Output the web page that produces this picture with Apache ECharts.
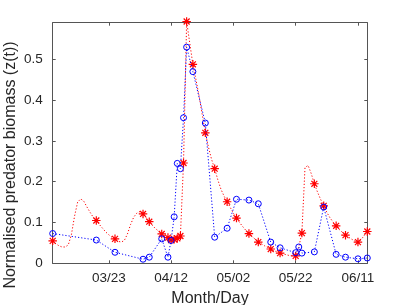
<!DOCTYPE html>
<html><head><meta charset="utf-8">
<script src="https://cdn.jsdelivr.net/npm/echarts@6/dist/echarts.min.js"></script>
<style>html,body{margin:0;padding:0;background:#fff}#c{width:407px;height:305px}</style>
</head><body><div id="c"></div>
<script>
// x values are day-of-year (03/23 = 82)
const tickDays = [82, 102, 122, 142, 162];
const tickLabels = ['03/23', '04/12', '05/02', '05/22', '06/11'];
const yTicks = [0, 0.1, 0.2, 0.3, 0.4, 0.5];

// model curve (red dotted)
const modelDays = [64,65,66,67,68,69,70,71,72,73,74,75,76,77,78,79,80,81,82,83,84,85,86,87,88,89,90,91,92,93,94,95,96,97,98,99,100,101,102,103,104,105,106,107,108,109,110,111,112,113,114,115,116,117,118,119,120,121,122,123,124,125,126,127,128,129,130,131,132,133,134,135,136,137,138,139,140,141,142,143,144,145,146,147,148,149,150,151,152,153,154,155,156,157,158,159,160,161,162,163,164,165];
const modelVals = [0.055,0.048,0.043,0.040,0.040,0.045,0.070,0.115,0.150,0.158,0.152,0.138,0.125,0.113,0.104,0.095,0.086,0.077,0.070,0.064,0.059,0.054,0.052,0.056,0.072,0.095,0.113,0.123,0.127,0.122,0.112,0.102,0.093,0.085,0.079,0.073,0.067,0.063,0.058,0.059,0.061,0.067,0.246,0.593,0.540,0.488,0.450,0.410,0.365,0.320,0.285,0.255,0.232,0.205,0.182,0.165,0.151,0.137,0.123,0.111,0.100,0.090,0.081,0.073,0.066,0.059,0.052,0.048,0.043,0.039,0.035,0.031,0.028,0.025,0.023,0.021,0.019,0.018,0.018,0.040,0.074,0.235,0.240,0.220,0.195,0.175,0.157,0.141,0.125,0.112,0.101,0.092,0.083,0.076,0.069,0.064,0.059,0.055,0.052,0.058,0.068,0.078];

// red stars
const redDays = [64,78,84,93,95,99,101,102,103,104,105,106,107,109,113,116,120,123,127,130,134,137,142,144,148,151,155,158,162,165];
const redVals = [0.055,0.105,0.060,0.121,0.102,0.072,0.063,0.057,0.059,0.061,0.067,0.246,0.593,0.488,0.320,0.232,0.151,0.111,0.073,0.052,0.035,0.025,0.018,0.074,0.195,0.141,0.092,0.069,0.052,0.078];

// blue circles
const blueDays = [64,78,84,93,95,99,101,102,103,104,105,106,107,109,113,116,120,123,127,130,134,137,142,143,144,148,151,155,158,162,165];
const blueVals = [0.073,0.057,0.027,0.010,0.015,0.060,0.015,0.056,0.114,0.245,0.232,0.357,0.530,0.470,0.344,0.064,0.086,0.157,0.155,0.146,0.052,0.038,0.026,0.040,0.025,0.028,0.138,0.022,0.015,0.011,0.013];

const zip = (a, b) => a.map((d, i) => [d, b[i]]);
const star = 'path://M8.6,0L11.4,0L11.4,20L8.6,20Z M0,8.6L20,8.6L20,11.4L0,11.4Z M4,2L18,16L16,18L2,4Z M16,2L18,4L4,18L2,16Z';
const axCol = '#555';
const txt = '#262626';
const font = 'Liberation Sans';

const chart = echarts.init(document.getElementById('c'), null, {renderer: 'canvas'});
chart.setOption({
  animation: false,
  backgroundColor: '#fff',
  grid: {left: 52.7, right: 39.7, top: 22.7, bottom: 41.7, containLabel: false, outerBoundsMode: 'none'},
  xAxis: [{
    type: 'value', min: 64, max: 165, position: 'bottom',
    axisLine: {show: true, onZero: false, lineStyle: {color: axCol, width: 1}},
    axisTick: {show: true, inside: true, length: 3, customValues: tickDays, lineStyle: {color: axCol}},
    axisLabel: {show: true, customValues: tickDays, margin: 8, color: txt, fontFamily: font, fontSize: 13.5,
      formatter: v => tickLabels[tickDays.indexOf(v)] || ''},
    splitLine: {show: false},
    name: 'Month/Day', nameLocation: 'middle', nameGap: 24,
    nameTextStyle: {color: txt, fontFamily: font, fontSize: 16}
  }, {
    type: 'value', min: 64, max: 165, position: 'top',
    axisLine: {show: true, onZero: false, lineStyle: {color: axCol, width: 1}},
    axisTick: {show: true, inside: true, length: 3, customValues: tickDays, lineStyle: {color: axCol}},
    axisLabel: {show: false}, splitLine: {show: false}
  }],
  yAxis: [{
    type: 'value', min: 0, max: 0.59, position: 'left',
    axisLine: {show: true, onZero: false, lineStyle: {color: axCol, width: 1}},
    axisTick: {show: true, inside: true, length: 3, customValues: yTicks, lineStyle: {color: axCol}},
    axisLabel: {show: true, customValues: yTicks, margin: 10, color: txt, fontFamily: font, fontSize: 13.5,
      formatter: v => String(Math.round(v * 10) / 10)},
    splitLine: {show: false}
  }, {
    type: 'value', min: 0, max: 0.59, position: 'right',
    axisLine: {show: true, onZero: false, lineStyle: {color: axCol, width: 1}},
    axisTick: {show: true, inside: true, length: 3, customValues: yTicks, lineStyle: {color: axCol}},
    axisLabel: {show: false}, splitLine: {show: false}
  }],
  graphic: [{
    type: 'text', x: 11, y: 165, rotation: Math.PI / 2,
    style: {text: 'Normalised predator biomass (z(t))', fill: txt, font: '16px "Liberation Sans"',
      textAlign: 'center', textVerticalAlign: 'middle'}
  }],
  series: [{
    type: 'line', xAxisIndex: 0, yAxisIndex: 0, data: zip(modelDays, modelVals),
    showSymbol: false, symbol: 'none', clip: false,
    lineStyle: {color: '#ff0000', width: 1, type: [1.2, 2]}, z: 2
  }, {
    type: 'scatter', xAxisIndex: 0, yAxisIndex: 0, data: zip(redDays, redVals),
    symbol: star, symbolSize: 8.5, clip: false,
    itemStyle: {color: '#ff0000', opacity: 1}, z: 3
  }, {
    type: 'line', xAxisIndex: 0, yAxisIndex: 0, data: zip(blueDays, blueVals),
    symbol: 'circle', symbolSize: 6, showSymbol: true, showAllSymbol: true, clip: false,
    lineStyle: {color: '#0000ff', width: 1, type: [1.2, 2]},
    itemStyle: {color: 'rgba(0,0,0,0)', borderColor: '#0000ff', borderWidth: 1}, z: 4
  }]
});
</script></body></html>
